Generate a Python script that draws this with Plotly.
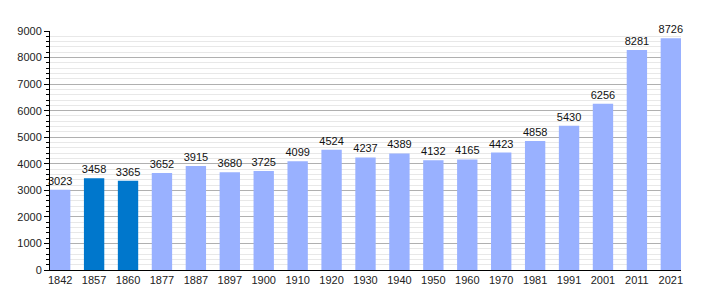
import plotly.graph_objects as go

years = ["1842", "1857", "1860", "1877", "1887", "1897", "1900", "1910", "1920", "1930",
         "1940", "1950", "1960", "1970", "1981", "1991", "2001", "2011", "2021"]
population = [3023, 3458, 3365, 3652, 3915, 3680, 3725, 4099, 4524, 4237,
              4389, 4132, 4165, 4423, 4858, 5430, 6256, 8281, 8726]
highlighted = ["1857", "1860"]

LIGHT = "#99B1FF"
DARK = "#0077CC"
colors = [DARK if y in highlighted else LIGHT for y in years]

fig = go.Figure(go.Bar(
    x=list(range(len(years))),
    y=population,
    marker=dict(color=colors, line=dict(width=0)),
    text=[str(v) for v in population],
    textposition="outside",
    cliponaxis=False,
    textfont=dict(family="Liberation Sans, Arial, sans-serif", size=11, color="#111111"),
    width=0.6,
))

fig.update_layout(
    width=710, height=300,
    margin=dict(l=50, r=29, t=31, b=30),
    paper_bgcolor="white", plot_bgcolor="white",
    showlegend=False,
    font=dict(family="Liberation Sans, Arial, sans-serif", size=11, color="#222222"),
    uniformtext=dict(minsize=11, mode="show"),
)
fig.update_xaxes(
    tickmode="array", tickvals=list(range(len(years))), ticktext=years,
    range=[-0.3, len(years) - 0.7],
    showgrid=False, showline=True, linecolor="black", linewidth=1,
    ticks="", tickfont=dict(size=11, color="#222222"), ticklabelstandoff=0,
    zeroline=False,
)
fig.update_yaxes(
    range=[0, 9000], tick0=0, dtick=1000,
    showgrid=True, gridcolor="#B0B0B0", gridwidth=1,
    showline=True, linecolor="black", linewidth=1,
    ticks="outside", ticklen=5, tickcolor="black",
    tickfont=dict(size=11, color="#222222"),
    minor=dict(dtick=200, showgrid=True, gridcolor="#E8E8E8", gridwidth=1,
               ticks="outside", ticklen=3, tickcolor="black"),
    zeroline=False,
)

fig.write_html("out.html")
